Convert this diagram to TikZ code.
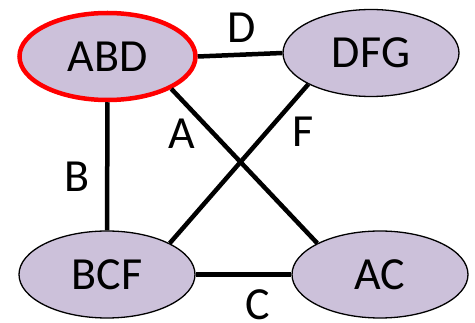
\documentclass[tikz,border=0pt]{standalone}
\usepackage{fontspec}
\setmainfont{Carlito}
\usetikzlibrary{shapes.geometric}
\definecolor{setfill}{RGB}{204,193,218}
\tikzset{
  cluster/.style={ellipse, draw=black, line width=1.3pt, fill=setfill,
    minimum width=176pt, minimum height=87pt, inner sep=0pt,
    font=\fontsize{46}{50}\selectfont},
  chosen/.style={draw=red, line width=4.5pt},
  link/.style={line width=4.5pt, black},
  sepset/.style={inner sep=0pt, font=\fontsize{46}{50}\selectfont}
}
\begin{document}
\begin{tikzpicture}[x=1pt,y=-1pt]
  \useasboundingbox (0,0) rectangle (475,323);
  % cliques of the junction graph
  \node[cluster, chosen] (abd) at (107.5,56.5) {ABD};
  \node[cluster] (dfg) at (371,53) {DFG};
  \node[cluster] (bcf) at (107,274.5) {BCF};
  \node[cluster] (ac)  at (380,274.5) {AC};
  % edges between cliques
  \draw[link] (abd.east) -- (dfg.west);
  \draw[link] (abd.south) -- (bcf.north);
  \draw[link] (abd.south east) -- (ac.north west);
  \draw[link] (dfg.south west) -- (bcf.north east);
  \draw[link] (bcf.east) -- (ac.west);
  % separator labels
  \node[sepset] (ld) at (242,28) {D};
  \node[sepset] (la) at (182,134) {A};
  \node[sepset] (lf) at (303,132) {F};
  \node[sepset] (lb) at (77,177) {B};
  \node[sepset] (lc) at (258,305) {C};
\end{tikzpicture}
\end{document}
